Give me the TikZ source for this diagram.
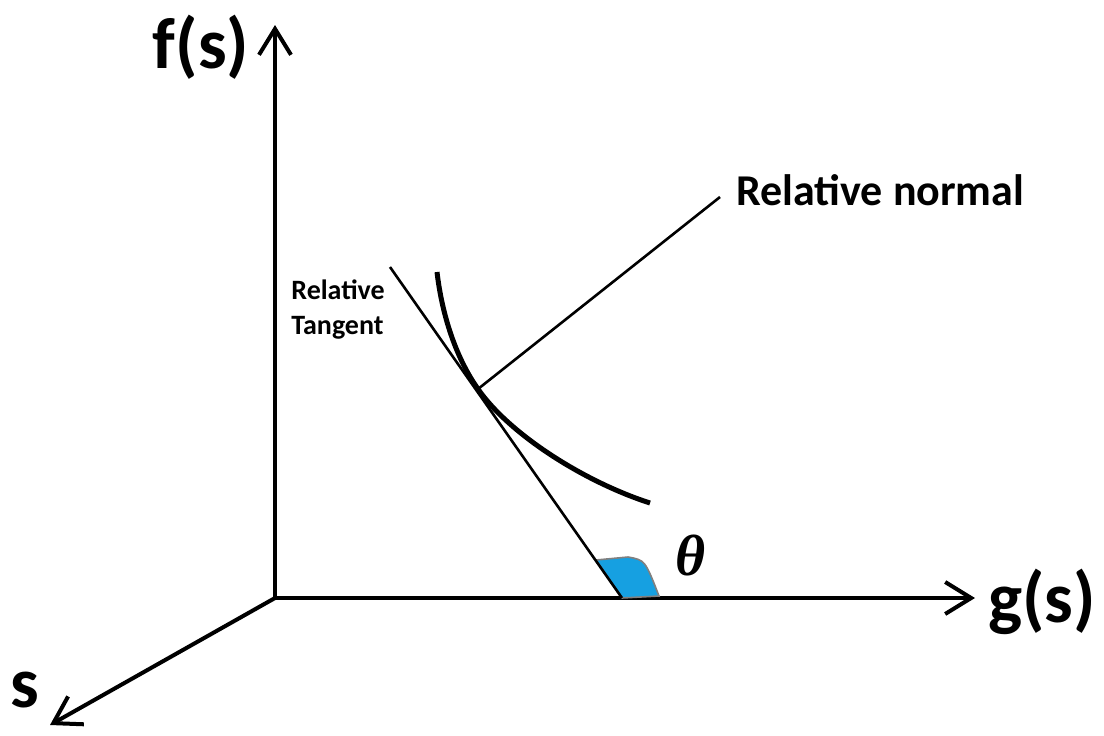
\documentclass[tikz,border=0pt]{standalone}
\usepackage{fontspec}
\setmainfont{Carlito}
\newfontfamily\thetafont{Liberation Serif}
\usetikzlibrary{arrows.meta}
\definecolor{anglefill}{RGB}{22,160,225}
\tikzset{
  axis/.style={line width=2pt, -{Straight Barb[length=13pt,width=16pt,line width=2pt]}},
  bigtext/.style={font=\fontsize{36}{40}\bfseries\selectfont, inner sep=0pt},
}
\begin{document}
\begin{tikzpicture}[x=0.5pt, y=-0.5pt]
  \useasboundingbox (0,0) rectangle (1104,735);

  % ================= axes =================
  \coordinate (O) at (275,598);
  \coordinate (fsend) at (275,25);
  \coordinate (gsend) at (975,598);
  \coordinate (send) at (50,725);
  \draw[axis] (O) -- (fsend);
  \draw[axis] (O) -- (gsend);
  \draw[axis] (O) -- (send);
  \node[bigtext] (fslabel) at (201,47) {f(s)};
  \node[bigtext] (gslabel) at (1042,602) {g(s)};
  \node[bigtext] (slabel) at (25,690) {s};

  % ================= angle =================
  \fill[anglefill, draw=gray, line width=0.8pt] (596,560) -- (628,557)
    .. controls (645,560) .. (659,596) -- (622,598) -- cycle;
  \node[inner sep=0pt] (thetalabel) at (691,555)
    {\thetafont\fontsize{29}{32}\bfseries\itshape\selectfont θ};

  % ================= tangent, curve, normal =================
  \coordinate (tanA) at (390,267);
  \coordinate (tanB) at (622,598);
  \draw[line width=1.3pt] (tanA) -- (tanB);

  \coordinate (curveA) at (437,272);
  \coordinate (curveT) at (478,389);
  \coordinate (curveE) at (650,503);
  \draw[line width=2.5pt] (curveA) .. controls (442,315) and (456,358) .. (curveT)
    .. controls (510,435) and (585,482) .. (curveE);

  \coordinate (normalEnd) at (720,197);
  \draw[line width=1.3pt] (curveT) -- (normalEnd);

  % labels
  \node[anchor=west, inner sep=0pt, font=\fontsize{22}{26}\bfseries\selectfont]
    (normallabel) at (736,190) {Relative normal};
  \node[anchor=west, inner sep=0pt, align=left,
    font=\fontsize{14}{17.5}\bfseries\selectfont]
    (tangentlabel) at (291,310) {Relative\\Tangent};
\end{tikzpicture}
\end{document}
